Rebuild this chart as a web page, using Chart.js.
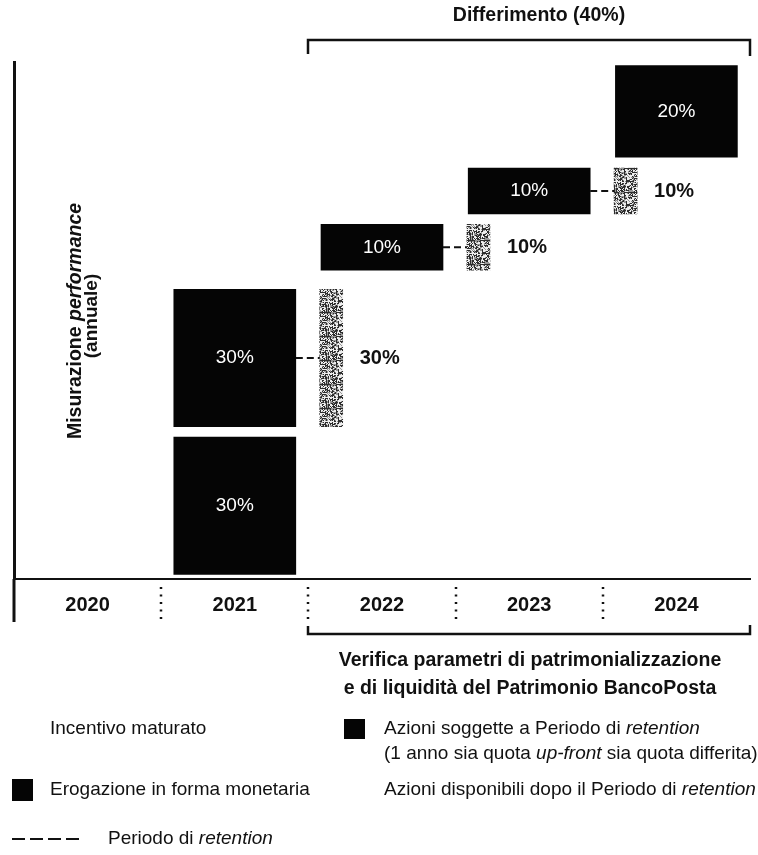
<!DOCTYPE html>
<html>
<head>
<meta charset="utf-8">
<script src="https://cdn.jsdelivr.net/npm/chart.js@4.4.1/dist/chart.umd.min.js"></script>
<style>
  html, body { margin: 0; padding: 0; background: #fff; }
  canvas { display: block; }
</style>
</head>
<body>
<canvas id="chart" width="758" height="855"></canvas>
<script>
// year columns on the time axis
const years = ['2020', '2021', '2022', '2023', '2024']

// pay-out blocks: year, level where the block starts (staircase), share in %
const payYears = [2021, 2021, 2022, 2023, 2024]
const payBase = [0, 32.3, 66.5, 78.8, 91.2]
const payShare = [30, 30, 10, 10, 20]

// one-year retention blocks, each tied to a pay-out block (index into the arrays above)
const retOf = [1, 2, 3]

const FONT = "'Liberation Sans', Arial, sans-serif"
const INK = '#111'
const RET_SHIFT = 0.655   // retention block sits at the start of the following year

function speckle() {
  const c = document.createElement('canvas')
  c.width = 24
  c.height = 24
  const g = c.getContext('2d')
  const img = g.createImageData(24, 24)
  for (let y = 0; y < 24; y++) {
    for (let x = 0; x < 24; x++) {
      const h = (((x * 73856093) ^ (y * 19349663)) >>> 0) % 97
      const v = h < 38 ? 45 : h < 62 ? 150 : 238
      const p = (y * 24 + x) * 4
      img.data[p] = img.data[p + 1] = img.data[p + 2] = v
      img.data[p + 3] = 255
    }
  }
  g.putImageData(img, 0, 0)
  return c
}

const canvas = document.getElementById('chart')
const ctx = canvas.getContext('2d')
const retFill = ctx.createPattern(speckle(), 'repeat')

const payData = payYears.map((yr, i) => ({ x: yr, y: [payBase[i], payBase[i] + payShare[i]] }))
const retData = retOf.map(j => ({ x: payYears[j] + RET_SHIFT, y: [payBase[j], payBase[j] + payShare[j]] }))

function text(c, str, x, y, size, weight, align, color, style) {
  c.font = `${style || 'normal'} ${weight} ${size}px ${FONT}`
  c.fillStyle = color || INK
  c.textAlign = align || 'left'
  c.textBaseline = 'middle'
  c.fillText(str, x, y)
}

// mixed roman / italic run, left aligned at x
function runs(c, parts, x, y, size, weight) {
  c.textBaseline = 'middle'
  c.textAlign = 'left'
  c.fillStyle = INK
  let cx = x
  parts.forEach(([s, it]) => {
    c.font = `${it ? 'italic' : 'normal'} ${weight} ${size}px ${FONT}`
    c.fillText(s, cx, y)
    cx += c.measureText(s).width
  })
  return cx - x
}

function runsWidth(c, parts, size, weight) {
  let w = 0
  parts.forEach(([s, it]) => {
    c.font = `${it ? 'italic' : 'normal'} ${weight} ${size}px ${FONT}`
    w += c.measureText(s).width
  })
  return w
}

const decorations = {
  id: 'decorations',
  afterDraw(chart) {
    const c = chart.ctx
    const area = chart.chartArea
    const xs = chart.scales.x
    const pay = chart.getDatasetMeta(0).data
    const ret = chart.getDatasetMeta(1).data

    c.save()
    c.strokeStyle = INK

    // value axis runs on below the time axis
    c.lineWidth = 3
    c.beginPath()
    c.moveTo(area.left, area.bottom)
    c.lineTo(area.left, 622)
    c.stroke()

    // dotted separators between years
    c.lineWidth = 2.5
    c.setLineDash([2, 5.5])
    for (let k = 0; k < years.length - 1; k++) {
      const px = Math.round(xs.getPixelForValue(2020.5 + k))
      c.beginPath()
      c.moveTo(px, 587)
      c.lineTo(px, 621)
      c.stroke()
    }
    c.setLineDash([])

    // brackets over the deferral years
    const bx0 = Math.round(xs.getPixelForValue(2021.5))
    const bx1 = area.right
    c.lineWidth = 2.5
    c.beginPath()
    c.moveTo(bx0, 54)
    c.lineTo(bx0, 40)
    c.lineTo(bx1, 40)
    c.lineTo(bx1, 56)
    c.stroke()
    c.beginPath()
    c.moveTo(bx0, 626)
    c.lineTo(bx0, 634)
    c.lineTo(bx1, 634)
    c.lineTo(bx1, 625)
    c.stroke()

    text(c, 'Differimento (40%)', 539, 16, 19.5, 'bold', 'center')
    text(c, 'Verifica parametri di patrimonializzazione', 530, 661, 19.5, 'bold', 'center')
    text(c, 'e di liquidità del Patrimonio BancoPosta', 530, 689, 19.5, 'bold', 'center')

    // dashed retention links and labels
    c.lineWidth = 2
    c.setLineDash([7, 4])
    retOf.forEach((j, i) => {
      const a = pay[j]
      const r = ret[i]
      const my = (a.y + a.base) / 2
      c.beginPath()
      c.moveTo(a.x + a.width / 2, my)
      c.lineTo(r.x - r.width / 2, my)
      c.stroke()
    })
    c.setLineDash([])
    retOf.forEach((j, i) => {
      const r = ret[i]
      text(c, payShare[j] + '%', r.x + r.width / 2 + 17, (r.y + r.base) / 2, 20, 'bold', 'left')
    })

    // shares printed inside the blocks
    pay.forEach((b, i) => {
      text(c, payShare[i] + '%', b.x, (b.y + b.base) / 2, 19, 'normal', 'center', '#fff')
    })

    // rotated title of the value axis
    c.save()
    c.translate(76, 321)
    c.rotate(-Math.PI / 2)
    const t1 = [['Misurazione ', false], ['performance', true]]
    runs(c, t1, -runsWidth(c, t1, 19.5, 'bold') / 2, 0, 19.5, 'bold')
    c.restore()
    c.save()
    c.translate(92, 316)
    c.rotate(-Math.PI / 2)
    text(c, '(annuale)', 0, 0, 19, 'bold', 'center')
    c.restore()

    // legend
    c.fillStyle = '#050505'
    c.fillRect(12, 779, 21, 22)
    c.fillRect(344, 719, 21, 20)
    text(c, 'Incentivo maturato', 50, 729, 19, 'normal')
    text(c, 'Erogazione in forma monetaria', 50, 790, 19, 'normal')
    runs(c, [['Azioni soggette a Periodo di ', false], ['retention', true]], 384, 729, 19, 'normal')
    runs(c, [['(1 anno sia quota ', false], ['up-front', true], [' sia quota differita)', false]], 384, 754, 19, 'normal')
    runs(c, [['Azioni disponibili dopo il Periodo di ', false], ['retention', true]], 384, 790, 19, 'normal')
    runs(c, [['Periodo di ', false], ['retention', true]], 108, 839, 19, 'normal')
    c.strokeStyle = INK
    c.lineWidth = 2
    c.setLineDash([13, 5])
    c.beginPath()
    c.moveTo(12, 839)
    c.lineTo(84, 839)
    c.stroke()
    c.restore()
  }
}

new Chart(canvas, {
  type: 'bar',
  data: {
    datasets: [
      {
        label: 'Pay-out',
        data: payData,
        backgroundColor: '#050505',
        barThickness: 122,
        grouped: false,
      },
      {
        label: 'Retention',
        data: retData,
        backgroundColor: retFill,
        barThickness: 23,
        grouped: false,
      }
    ]
  },
  options: {
    responsive: false,
    animation: false,
    events: [],
    layout: {
      padding: { left: 14, right: 8, top: 62, bottom: 224 }
    },
    plugins: {
      legend: { display: false },
      tooltip: { enabled: false },
    },
    scales: {
      x: {
        type: 'linear',
        min: 2019.5,
        max: 2024.5,
        offset: false,
        afterBuildTicks: scale => {
          scale.ticks = years.map(y => ({ value: Number(y) }))
        },
        grid: { display: false, drawTicks: false, offset: false },
        border: { display: true, color: INK, width: 2 },
        ticks: {
          padding: 14,
          color: INK,
          font: { family: FONT, size: 20, weight: 'bold' },
          callback: v => years[Math.round(v) - 2020]
        }
      },
      y: {
        min: -1,
        max: 112,
        grid: { display: false, drawTicks: false },
        border: { display: true, color: INK, width: 3 },
        ticks: { display: false }
      }
    }
  },
  plugins: [decorations]
})
</script>
</body>
</html>
